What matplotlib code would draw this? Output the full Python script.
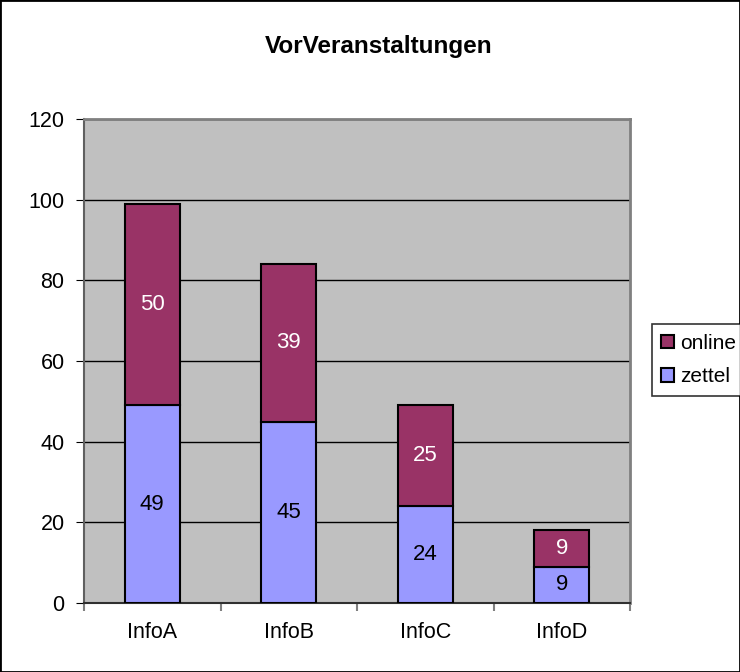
import matplotlib.pyplot as plt
from matplotlib.patches import Rectangle

plt.rcParams['font.family'] = ['Liberation Sans', 'DejaVu Sans']

# data
categories = ['InfoA', 'InfoB', 'InfoC', 'InfoD']
zettel = [49, 45, 24, 9]
online = [50, 39, 25, 9]
y_ticks = [0, 20, 40, 60, 80, 100, 120]

col_zettel = '#9999FF'
col_online = '#993366'

fig = plt.figure(figsize=(7.4, 6.72), dpi=100)
ax = fig.add_axes([84 / 740, 1 - 603 / 672, 546 / 740, 484 / 672])
ax.set_facecolor('#C0C0C0')

x = list(range(len(categories)))
b1 = ax.bar(x, zettel, width=0.4, color=col_zettel, edgecolor='black', linewidth=1.5,
            label='zettel', zorder=3)
b2 = ax.bar(x, online, width=0.4, bottom=zettel, color=col_online, edgecolor='black',
            linewidth=1.5, label='online', zorder=3)

for i in x:
    ax.text(i, zettel[i] / 2, str(zettel[i]), ha='center', va='center',
            fontsize=16, color='black', zorder=4)
    ax.text(i, zettel[i] + online[i] / 2, str(online[i]), ha='center', va='center',
            fontsize=16, color='white', zorder=4)

ax.set_xlim(-0.5, len(categories) - 0.5)
ax.set_ylim(0, 120)
ax.set_yticks(y_ticks)
ax.yaxis.grid(True, color='black', linewidth=1, zorder=1)
ax.set_axisbelow(True)

ax.set_xticks(x)
ax.set_xticklabels(categories)
ax.set_xticks([i + 0.5 for i in range(-1, len(categories))], minor=True)
ax.tick_params(axis='x', which='major', length=0, pad=14, labelsize=15.5)
ax.tick_params(axis='x', which='minor', length=6, color='#808080', width=1.5)
ax.tick_params(axis='y', length=6, color='black', labelsize=15.5, pad=8)

for s in ['top', 'right']:
    ax.spines[s].set_color('#808080')
    ax.spines[s].set_linewidth(2)
ax.spines['left'].set_color('#606060')
ax.spines['left'].set_linewidth(1.5)
ax.spines['bottom'].set_color('#303030')
ax.spines['bottom'].set_linewidth(1.5)

fig.text(379 / 740, 1 - 46 / 672, 'VorVeranstaltungen', fontsize=17.5,
         fontweight='bold', ha='center', va='center')

handles = [b2, b1]
leg = fig.legend(handles, ['online', 'zettel'], loc='center left',
                 bbox_to_anchor=(652 / 740, 1 - 360 / 672), fontsize=15,
                 frameon=True, fancybox=False, edgecolor='black', handlelength=0.6,
                 handleheight=0.6, handletextpad=0.3, labelspacing=0.7,
                 borderpad=0.45, borderaxespad=0)
leg.get_frame().set_linewidth(1.2)

fig.add_artist(Rectangle((0, 0), 1, 1, transform=fig.transFigure, fill=False,
                         edgecolor='black', linewidth=2))

plt.savefig('out.png', dpi=100)
